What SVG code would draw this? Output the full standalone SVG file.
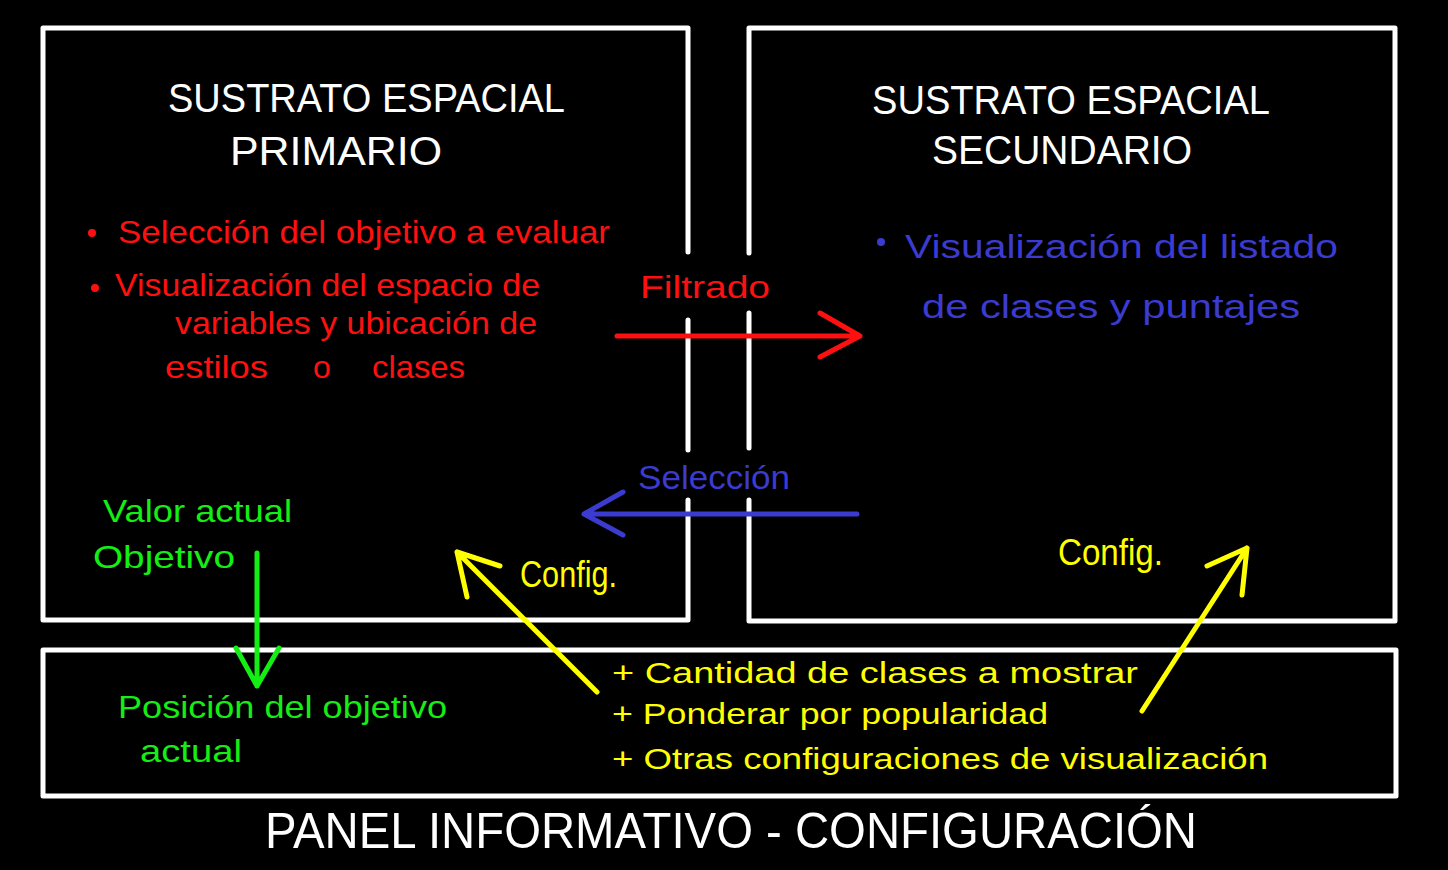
<svg xmlns="http://www.w3.org/2000/svg" width="1448" height="870" viewBox="0 0 1448 870">
<style>
.frame{fill:none;stroke:#fff;stroke-width:5;stroke-linecap:round;stroke-linejoin:round}
.t{font-family:"Liberation Sans",Arial,sans-serif;}
.head{fill:#fff;font-size:40px}
.red{fill:#ff1010;font-size:32px}
.blue{fill:#3b3bd0;font-size:34px}
.green{fill:#14ee14;font-size:32px}
.yel{fill:#ffff00;font-size:30px}
.cfg{fill:#ffff00;font-size:36px}
.arr{fill:none;stroke-width:5;stroke-linecap:round;stroke-linejoin:round}
</style>
<rect width="1448" height="870" fill="#000"/>

<g id="primario">
<path class="frame" d="M688 252 V28 H43 V620 H688 V500 M688 320 V450"/>
<text class="t head" x="168" y="112" textLength="397" lengthAdjust="spacingAndGlyphs">SUSTRATO ESPACIAL</text>
<text class="t head" x="230" y="165" textLength="212" lengthAdjust="spacingAndGlyphs">PRIMARIO</text>
<circle cx="92" cy="233" r="4" fill="#ff1010"/>
<text class="t red" x="118" y="243" textLength="492" lengthAdjust="spacingAndGlyphs">Selección del objetivo a evaluar</text>
<circle cx="95" cy="288" r="4" fill="#ff1010"/>
<text class="t red" x="115" y="296" textLength="425" lengthAdjust="spacingAndGlyphs">Visualización del espacio de</text>
<text class="t red" x="175" y="334" textLength="362" lengthAdjust="spacingAndGlyphs">variables y ubicación de</text>
<text class="t red" x="165" y="378" textLength="103" lengthAdjust="spacingAndGlyphs">estilos</text>
<text class="t red" x="313" y="378">o</text>
<text class="t red" x="372" y="378" textLength="93" lengthAdjust="spacingAndGlyphs">clases</text>
<text class="t green" x="103" y="522" textLength="189" lengthAdjust="spacingAndGlyphs">Valor actual</text>
<text class="t green" x="93" y="568" textLength="142" lengthAdjust="spacingAndGlyphs">Objetivo</text>
<text class="t cfg" x="520" y="587" textLength="97" lengthAdjust="spacingAndGlyphs">Config.</text>
</g>

<g id="secundario">
<path class="frame" d="M749 253 V28 H1395 V621 H749 V500 M749 313 V448"/>
<text class="t head" x="872" y="114" textLength="398" lengthAdjust="spacingAndGlyphs">SUSTRATO ESPACIAL</text>
<text class="t head" x="932" y="164" textLength="260" lengthAdjust="spacingAndGlyphs">SECUNDARIO</text>
<circle cx="881" cy="242" r="4" fill="#3b3bd0"/>
<text class="t blue" x="905" y="258" textLength="433" lengthAdjust="spacingAndGlyphs">Visualización del listado</text>
<text class="t blue" x="922" y="318" textLength="378" lengthAdjust="spacingAndGlyphs">de clases y puntajes</text>
<text class="t cfg" x="1058" y="565" textLength="105" lengthAdjust="spacingAndGlyphs">Config.</text>
</g>

<g id="panel">
<rect class="frame" x="43" y="650" width="1353" height="146"/>
<text class="t green" x="118" y="718" textLength="329" lengthAdjust="spacingAndGlyphs">Posición del objetivo</text>
<text class="t green" x="140" y="762" textLength="102" lengthAdjust="spacingAndGlyphs">actual</text>
<text class="t yel" x="612" y="683" textLength="526" lengthAdjust="spacingAndGlyphs">+ Cantidad de clases a mostrar</text>
<text class="t yel" x="612" y="724" textLength="436" lengthAdjust="spacingAndGlyphs">+ Ponderar por popularidad</text>
<text class="t yel" x="612" y="769" textLength="656" lengthAdjust="spacingAndGlyphs">+ Otras configuraciones de visualización</text>
</g>

<g id="titulo">
<text class="t" x="265" y="848" fill="#fff" font-size="50" textLength="932" lengthAdjust="spacingAndGlyphs">PANEL INFORMATIVO - CONFIGURACIÓN</text>
</g>

<g id="connectors">
<g id="filtrado">
<path class="arr" stroke="#ff1010" d="M617 336 H860 M820 313 L860 336 L820 357"/>
<text class="t red" x="640" y="298" textLength="130" lengthAdjust="spacingAndGlyphs">Filtrado</text>
</g>
<g id="seleccion">
<path class="arr" stroke="#3b3bd0" d="M857 514 H584 M623 492 L584 514 L623 535"/>
<text class="t blue" x="638" y="489" textLength="152" lengthAdjust="spacingAndGlyphs">Selección</text>
</g>
<path class="arr" stroke="#14ee14" d="M257 553 V686 M236 648 L257 686 L279 648"/>
<path class="arr" stroke="#ffff00" d="M597 692 L457 552 M467 597 L457 552 L500 566"/>
<path class="arr" stroke="#ffff00" d="M1142 711 L1247 548 M1207 566 L1247 548 L1242 595"/>
</g>
</svg>
